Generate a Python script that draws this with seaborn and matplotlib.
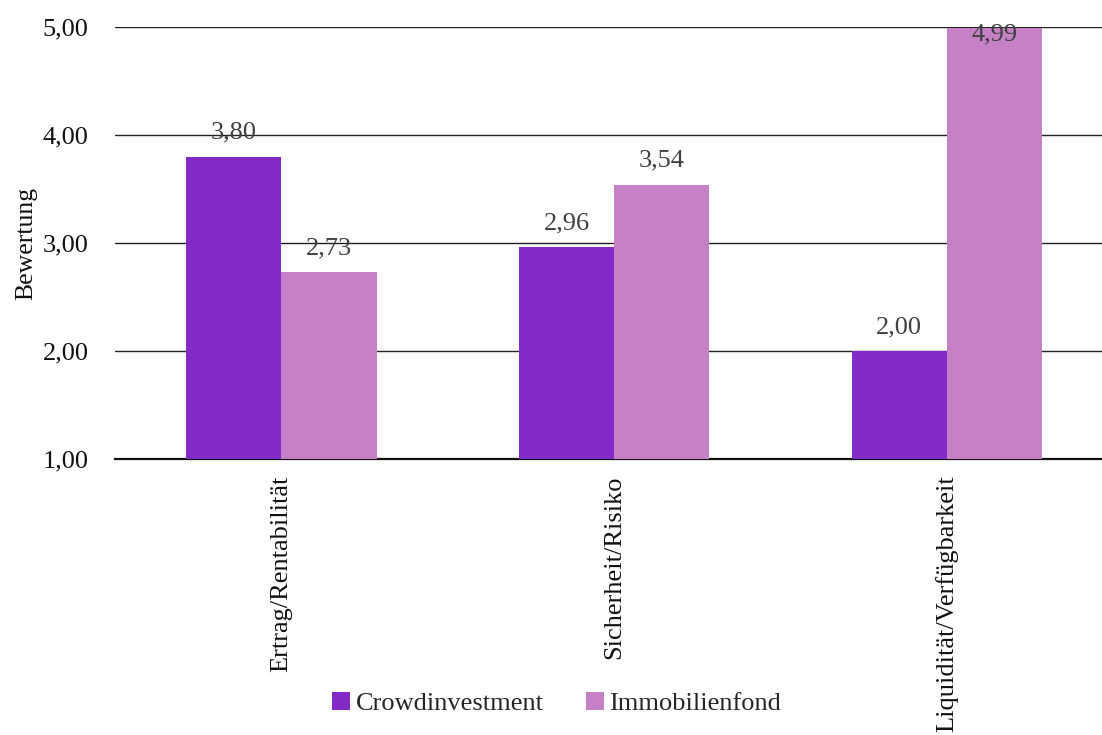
import matplotlib
matplotlib.use("Agg")
import matplotlib.pyplot as plt
import seaborn as sns
import pandas as pd

categories = ["Ertrag/Rentabilität", "Sicherheit/Risiko", "Liquidität/Verfügbarkeit"]
series_names = ["Crowdinvestment", "Immobilienfond"]
crowd = [3.80, 2.96, 2.00]
immo = [2.73, 3.54, 4.99]
yticks = [1.0, 2.0, 3.0, 4.0, 5.0]
colors = ["#8229C8", "#C681C6"]

df = pd.DataFrame({
    "Kategorie": categories * 2,
    "Serie": [series_names[0]] * 3 + [series_names[1]] * 3,
    "Wert": crowd + immo,
})

sns.set_theme(style="white")
plt.rcParams["font.family"] = ["Liberation Serif", "DejaVu Serif"]

fig = plt.figure(figsize=(11.02, 7.35), dpi=100)
ax = fig.add_axes([0.1044, 0.3755, 0.9056, 0.5878])

sns.barplot(data=df, x="Kategorie", y="Wert", hue="Serie", order=categories,
            hue_order=series_names, palette=colors, width=0.572, saturation=1,
            ax=ax, legend=False, zorder=3, linewidth=0, edgecolor="none")

ax.set_ylim(1, 5)
ax.set_xlim(-0.5, 2.5)
ax.set_yticks(yticks)
ax.set_yticklabels([f"{v:.2f}".replace(".", ",") for v in yticks], fontsize=19, color="#111111")
ax.tick_params(axis="y", length=0, pad=19)
ax.tick_params(axis="x", length=0, pad=12)
for y in yticks[1:]:
    ax.axhline(y, color="#222222", lw=1.0, zorder=1)
for s in ["left", "right", "top"]:
    ax.spines[s].set_visible(False)
ax.spines["bottom"].set_color("#111111")
ax.spines["bottom"].set_linewidth(1.6)

ax.set_xticks(range(len(categories)))
ax.set_xticklabels(categories, rotation=90, fontsize=19, color="#111111", va="top")
ax.set_xlabel("")
ax.set_ylabel("Bewertung", fontsize=18.5, labelpad=4, color="#111111")

for container in ax.containers:
    for bar in container:
        v = bar.get_height()
        x = bar.get_x() + bar.get_width() / 2
        ty = min(v + 0.22, 4.93)
        ax.text(x, ty, f"{v:.2f}".replace(".", ","), ha="center", va="center",
                fontsize=19, color="#404040", zorder=5)

from matplotlib.patches import Patch
handles = [Patch(facecolor=c, edgecolor="none") for c in colors]
fig.legend(handles, series_names, loc="center", bbox_to_anchor=(0.505, 0.043),
           ncol=2, frameon=False, fontsize=19, handlelength=0.7, handleheight=0.7,
           handletextpad=0.2, columnspacing=1.6)

fig.savefig("out.png", dpi=100)
